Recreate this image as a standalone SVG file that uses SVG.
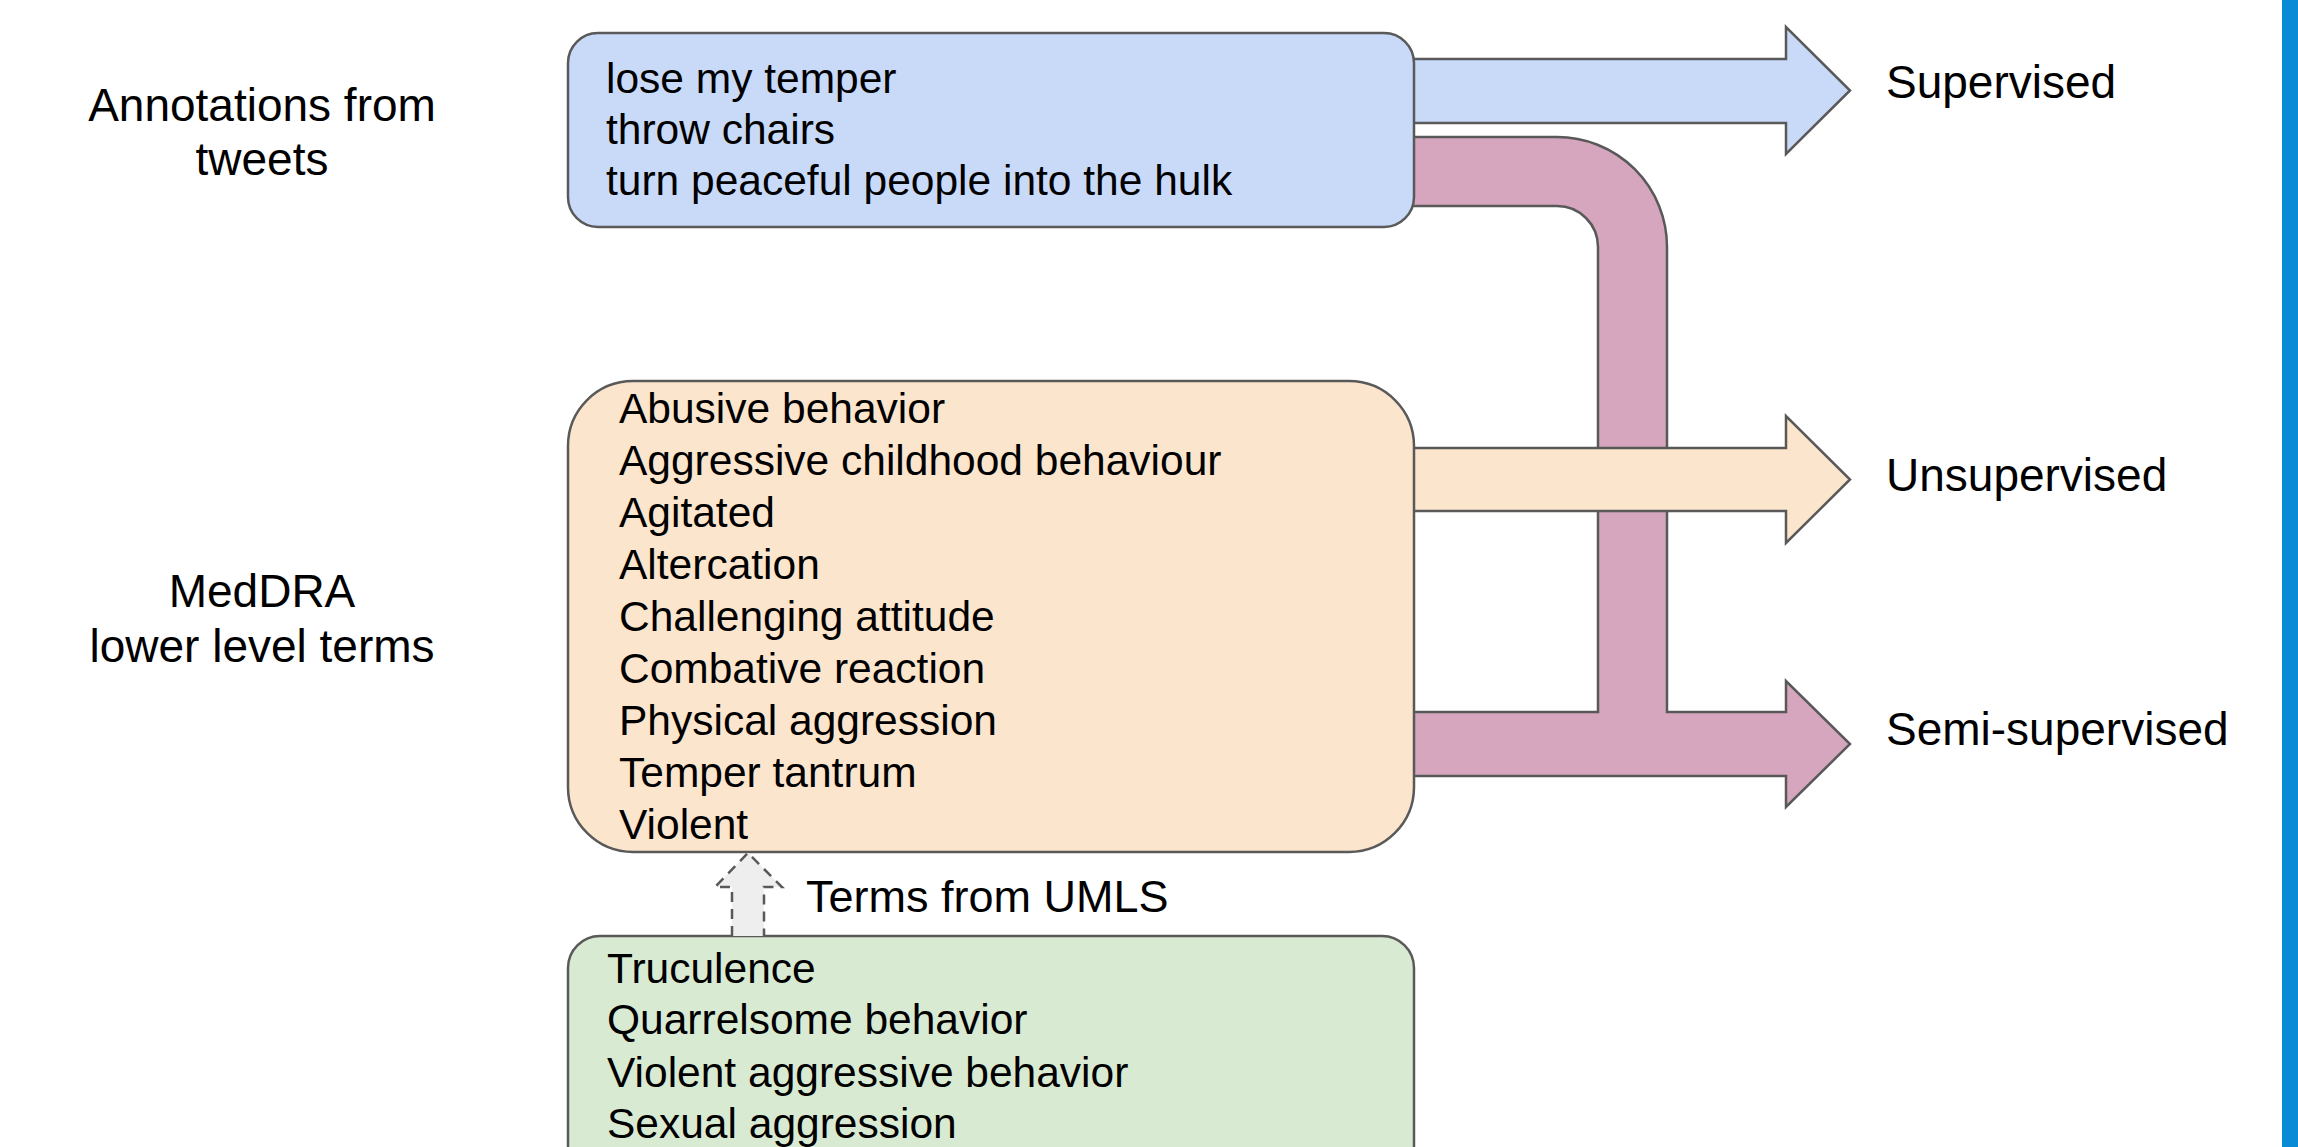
<svg xmlns="http://www.w3.org/2000/svg" width="2298" height="1147" viewBox="0 0 2298 1147">
<style>
  text { font-family: "Liberation Sans", Arial, sans-serif; fill: #000; }
  .lbl { font-size: 46px; }
  .side { font-size: 46px; text-anchor: middle; }
  .item { font-size: 42.5px; }
  .box { stroke: #595959; stroke-width: 2.5; }
  .flow { stroke: #595959; stroke-width: 2.5; stroke-linejoin: miter; }
</style>
<rect x="0" y="0" width="2298" height="1147" fill="#ffffff"/>
<rect x="2282" y="0" width="16" height="1147" fill="#0a8bd6"/>

<g id="side-labels">
  <text class="side" x="262" y="121">Annotations from</text>
  <text class="side" x="262" y="175">tweets</text>
  <text class="side" x="262" y="607">MedDRA</text>
  <text class="side" x="262" y="662">lower level terms</text>
</g>

<g id="connectors">
  <path id="semi-supervised-flow" class="flow" fill="#d5a6bd" d="M 1400 137 H 1557 A 110 110 0 0 1 1667 247 V 712 H 1786 V 681 L 1850 744 L 1786 807 V 776 H 1400 V 712 H 1598 V 247 A 41 41 0 0 0 1557 206 H 1400 Z"/>
  <path id="supervised-flow" class="flow" fill="#c9daf8" d="M 1400 59 H 1786 V 27 L 1850 90.5 L 1786 154 V 123 H 1400 Z"/>
  <path id="unsupervised-flow" class="flow" fill="#fce5cd" d="M 1400 448 H 1786 V 416 L 1850 479.5 L 1786 543 V 511 H 1400 Z"/>
</g>

<g id="tweets-box">
  <rect class="box" x="568" y="33" width="846" height="194" rx="30" ry="30" fill="#c9daf8"/>
  <text class="item" x="606" y="93">lose my temper</text>
  <text class="item" x="606" y="144">throw chairs</text>
  <text class="item" x="606" y="195">turn peaceful people into the hulk</text>
</g>

<g id="meddra-box">
  <rect class="box" x="568" y="381" width="846" height="471" rx="65" ry="65" fill="#fce5cd"/>
  <text class="item" x="619" y="423">Abusive behavior</text>
  <text class="item" x="619" y="475">Aggressive childhood behaviour</text>
  <text class="item" x="619" y="527">Agitated</text>
  <text class="item" x="619" y="579">Altercation</text>
  <text class="item" x="619" y="631">Challenging attitude</text>
  <text class="item" x="619" y="683">Combative reaction</text>
  <text class="item" x="619" y="735">Physical aggression</text>
  <text class="item" x="619" y="787">Temper tantrum</text>
  <text class="item" x="619" y="839">Violent</text>
</g>

<g id="umls-box">
  <rect class="box" x="568" y="936" width="846" height="260" rx="32" ry="32" fill="#d9ead3"/>
  <text class="item" x="607" y="983">Truculence</text>
  <text class="item" x="607" y="1034">Quarrelsome behavior</text>
  <text class="item" x="607" y="1087">Violent aggressive behavior</text>
  <text class="item" x="607" y="1138">Sexual aggression</text>
</g>

<g id="umls-arrow">
  <path d="M 732 936 V 887 H 715 L 748 853 L 782 887 H 764 V 936" fill="#eeeeee" stroke="#595959" stroke-width="2.5" stroke-dasharray="10 7"/>
  <text x="806" y="912" style="font-size:45px">Terms from UMLS</text>
</g>

<g id="outcome-labels">
  <text class="lbl" x="1886" y="98">Supervised</text>
  <text class="lbl" x="1886" y="491">Unsupervised</text>
  <text class="lbl" x="1886" y="745">Semi-supervised</text>
</g>
</svg>
